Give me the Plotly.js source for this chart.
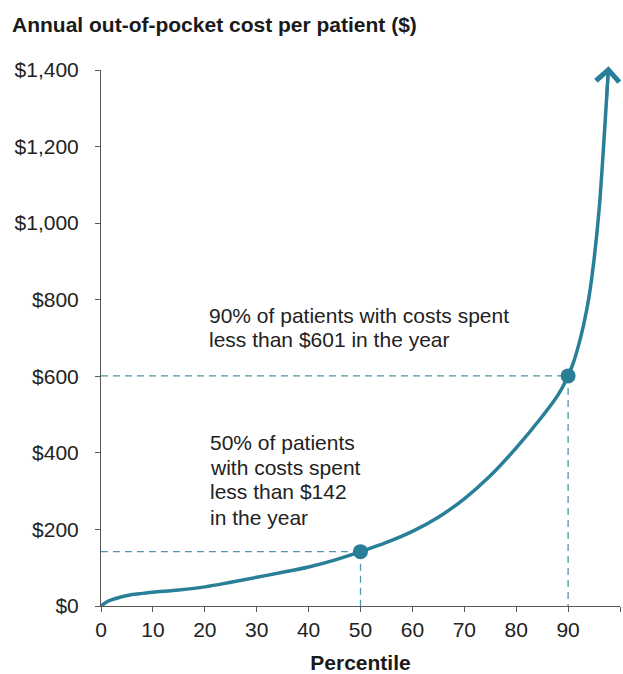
<!DOCTYPE html>
<html>
<head>
<meta charset="utf-8">
<script src="https://cdn.plot.ly/plotly-3.0.1.min.js"></script>
<style>html,body{margin:0;padding:0;background:#fff;}#chart{width:623px;height:674px;}</style>
</head>
<body>
<div id="chart"></div>
<script>
// Curve: cost by percentile
const percentiles = [0, 1, 2, 4, 6, 8, 10, 15, 20, 25, 30, 35, 40, 45, 50, 55, 60, 65, 70, 75, 80, 85, 88, 90, 91, 92, 93, 94, 95, 96, 97, 97.8];
const costs       = [0, 10, 16, 24, 30, 33, 36, 42, 50, 62, 75, 88, 102, 120, 142, 166, 195, 232, 280, 340, 413, 495, 550, 601, 635, 680, 735, 805, 905, 1040, 1235, 1410];
// Highlighted percentiles
const markedPct  = [50, 90];
const markedCost = [142, 601];
// Ticks
const xTickVals = [0, 10, 20, 30, 40, 50, 60, 70, 80, 90, 100];
const xTickText = ['0', '10', '20', '30', '40', '50', '60', '70', '80', '90', ''];
const yTickVals = [0, 200, 400, 600, 800, 1000, 1200, 1400];
const yTickText = ['$0', '$200', '$400', '$600', '$800', '$1,000', '$1,200', '$1,400'];
// Text
const chartTitle = 'Annual out-of-pocket cost per patient ($)';
const xTitle = 'Percentile';
const note90Lines = ['90% of patients with costs spent', 'less than $601 in the year'];
const note90LineY = [760, 695];
const note50Lines = ['50% of patients', 'with costs spent', 'less than $142', 'in the year'];
const note50LineY = [426, 363, 298, 230];

const teal = '#2a7f98';
const dashTeal = '#4f98ad';
const axisCol = '#595959';
const font = 'Arial, "Liberation Sans", sans-serif';

const traces = [];
// dashed guide lines
markedPct.forEach((p, i) => {
  traces.push({
    x: [0, p], y: [markedCost[i], markedCost[i]], mode: 'lines',
    line: {color: dashTeal, width: 1.3, dash: '7px,5px'}, hoverinfo: 'skip', showlegend: false
  });
  traces.push({
    x: [p, p], y: [markedCost[i], 0], mode: 'lines',
    line: {color: dashTeal, width: 1.3, dash: '7px,5px'}, hoverinfo: 'skip', showlegend: false
  });
});
// main curve
traces.push({
  x: percentiles, y: costs, mode: 'lines',
  line: {color: teal, width: 3.5, shape: 'spline', smoothing: 1},
  cliponaxis: false, showlegend: false
});
// markers
traces.push({
  x: markedPct, y: markedCost, mode: 'markers',
  marker: {color: teal, size: 15}, cliponaxis: false, showlegend: false
});

const lastX = percentiles[percentiles.length - 1];
const lastY = costs[costs.length - 1];
const prevX = percentiles[percentiles.length - 2];
const prevY = costs[costs.length - 2];

const annotations = [];
note90Lines.forEach((t, i) => annotations.push({
  x: 20.4, y: note90LineY[i], xref: 'x', yref: 'y', text: t, showarrow: false,
  xanchor: 'left', yanchor: 'middle', align: 'left', font: {size: 21, color: '#222'}
}));
note50Lines.forEach((t, i) => annotations.push({
  x: 20.6, y: note50LineY[i], xref: 'x', yref: 'y', text: t, showarrow: false,
  xanchor: 'left', yanchor: 'middle', align: 'left', font: {size: 21, color: '#222'}
}));
annotations.push({
  x: lastX, y: lastY, ax: prevX + (lastX - prevX) * 0.5, ay: prevY + (lastY - prevY) * 0.5,
  xref: 'x', yref: 'y', axref: 'x', ayref: 'y', text: '', showarrow: true,
  arrowhead: 4, arrowsize: 1.5, arrowwidth: 3, arrowcolor: teal
});

const layout = {
  width: 623, height: 674,
  margin: {l: 101, r: 3, t: 70, b: 68},
  paper_bgcolor: '#fff', plot_bgcolor: '#fff',
  font: {family: font, size: 21, color: '#222'},
  title: {
    text: '<b>' + chartTitle + '</b>',
    font: {family: font, size: 21, color: '#1a1a1a'},
    xref: 'container', x: 12 / 623, xanchor: 'left',
    yref: 'container', y: 1 - 25 / 674, yanchor: 'middle'
  },
  xaxis: {
    range: [0, 100], tickvals: xTickVals, ticktext: xTickText,
    showgrid: false, zeroline: false, showline: true, linecolor: axisCol, linewidth: 1,
    ticks: 'outside', ticklen: 5, tickcolor: axisCol, tickfont: {size: 21, color: '#222'},
    title: {text: '<b>' + xTitle + '</b>', font: {size: 21, color: '#1a1a1a'}, standoff: 20},
    fixedrange: true
  },
  yaxis: {
    range: [0, 1400], tickvals: yTickVals, ticktext: yTickText,
    showgrid: false, zeroline: false, showline: true, linecolor: axisCol, linewidth: 1,
    ticks: 'outside', ticklen: 5, tickcolor: axisCol, tickfont: {size: 21, color: '#222'},
    ticklabelstandoff: 12,
    fixedrange: true
  },
  annotations: annotations
};

Plotly.newPlot('chart', traces, layout, {displayModeBar: false, staticPlot: true});
</script>
</body>
</html>
